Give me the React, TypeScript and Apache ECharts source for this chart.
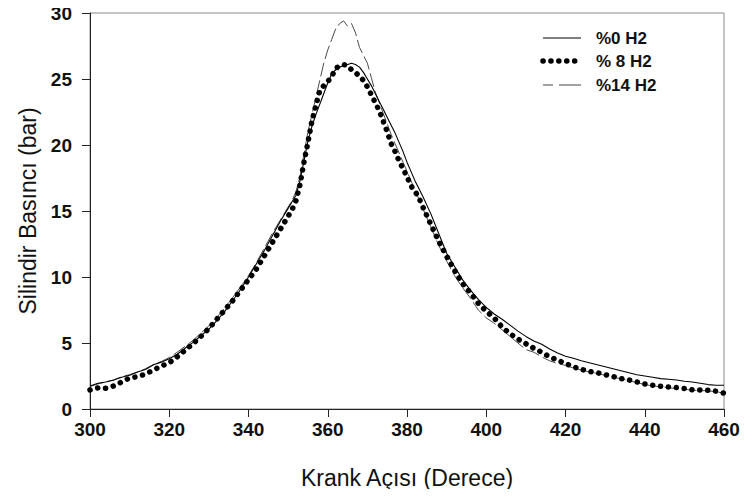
import React, { useEffect, useRef } from "react";
import * as echarts from "echarts";

const angles = [
  300, 302, 304, 306, 308, 310, 312, 314, 316, 318, 320, 322, 324, 326, 328, 330, 332, 334, 336, 338, 340, 342, 344, 346, 348, 350,
  351, 352, 353, 354, 355, 356, 357, 358, 359, 360, 361, 362, 363, 364, 365, 366, 367, 368, 369, 370, 371, 372, 373, 374, 375, 376,
  377, 378, 379, 380, 381, 382, 383, 384,
  386, 388, 390, 392, 394, 396, 398, 400, 402, 404, 406, 408, 410, 412, 414, 416, 418, 420, 422, 424, 426, 428, 430, 432, 434, 436,
  438, 440, 442, 444, 446, 448, 450, 452, 454, 456, 458, 460,
];

const h2_0 = [
  1.75, 1.95, 2.05, 2.2, 2.4, 2.55, 2.8, 3.0, 3.35, 3.55, 3.8, 4.15, 4.6, 5.05, 5.55, 6.05, 6.7, 7.4, 8.2, 9.05, 10.0, 11.0, 12.0, 13.1, 14.2, 15.2,
  15.7, 16.2, 17.3, 18.8, 20.3, 21.4, 22.3, 23.1, 23.9, 24.7, 25.4, 25.7, 25.9, 26.0, 26.1, 26.2, 26.1, 25.9, 25.5, 25.0, 24.5, 23.9,
  23.3, 22.7, 22.1, 21.5, 20.9, 20.2, 19.5, 18.7, 18.0, 17.3, 16.7, 16.1,
  14.8, 13.3, 11.8, 10.8, 9.8, 9.0, 8.3, 7.7, 7.2, 6.8, 6.35, 5.9, 5.5, 5.15, 4.9, 4.55, 4.25, 4.0, 3.85, 3.65, 3.5, 3.35, 3.2, 3.05,
  2.9, 2.75, 2.6, 2.5, 2.4, 2.3, 2.25, 2.2, 2.1, 2.05, 1.95, 1.85, 1.8, 1.8,
];

const h2_8 = [
  1.44, 1.6, 1.58, 1.75, 2.05, 2.35, 2.45, 2.65, 2.95, 3.25, 3.5, 3.95, 4.45, 4.95, 5.5, 6.1, 6.8, 7.5, 8.2, 9.0, 9.8, 10.6, 11.6, 12.6, 13.6, 14.6,
  15.1, 15.8, 17.0, 18.7, 20.2, 21.8, 23.0, 24.1, 24.5, 24.8, 25.2, 25.8, 26.0, 26.1, 26.0, 25.7, 25.5, 25.2, 24.9, 24.4, 23.8, 23.2,
  22.6, 21.8, 21.0, 20.1, 19.5, 18.8, 18.2, 17.6, 16.9, 16.5, 16.0, 15.3,
  14.0, 12.7, 11.6, 10.5, 9.5, 8.8, 8.0, 7.4, 6.9, 6.2, 5.7, 5.3, 4.95, 4.6, 4.3, 3.95, 3.7, 3.45, 3.2, 3.0, 2.85, 2.75, 2.6, 2.45,
  2.3, 2.2, 2.05, 1.9, 1.8, 1.72, 1.66, 1.62, 1.55, 1.45, 1.44, 1.42, 1.35, 1.2,
];

const h2_14 = [
  1.7, 1.9, 2.05, 2.2, 2.45, 2.6, 2.8, 3.05, 3.35, 3.6, 3.9, 4.3, 4.75, 5.2, 5.75, 6.3, 6.95, 7.65, 8.45, 9.25, 10.1, 11.1, 12.2, 13.3, 14.3, 15.3,
  15.8, 16.5, 17.6, 19.3, 21.0, 22.3, 23.6, 24.9, 26.2, 27.2, 28.0, 28.8, 29.2, 29.4, 29.0, 29.2, 28.5, 27.4, 26.8, 26.2, 25.1, 24.0,
  23.2, 22.4, 21.6, 20.8, 20.1, 19.4, 18.7, 18.0, 17.3, 16.6, 15.9, 15.2,
  13.8, 12.4, 11.2, 10.1, 9.2, 8.4, 7.5, 6.9, 6.5, 6.0, 5.5, 5.0, 4.5, 4.3, 3.95, 3.65, 3.45, 3.3, 3.1, 2.95, 2.8, 2.7, 2.55, 2.4,
  2.3, 2.15, 2.0, 1.85, 1.75, 1.68, 1.6, 1.55, 1.5, 1.42, 1.4, 1.38, 1.3, 1.2,
];

const seriesNames = ["%0 H2", "% 8 H2", "%14 H2"];
const FONT = "'Liberation Sans', Arial, Helvetica, sans-serif";

const DOT_DASH = [0.1, 7.8];
const LONG_DASH = [14, 4];

const pairs = (vals: number[]) => angles.map((a, i) => [a, vals[i]]);

export default function App() {
  const ref = useRef<HTMLDivElement>(null);
  useEffect(() => {
    if (!ref.current) return;
    const chart = echarts.init(ref.current, undefined, { renderer: "svg" });

    const legendX = 543;
    const legendLen = 38;
    const legendRows = [38, 61, 85];
    const legendStyles = [
      { stroke: "#000", lineWidth: 1 },
      { stroke: "#000", lineWidth: 5.5, lineDash: DOT_DASH, lineCap: "round" },
      { stroke: "#444", lineWidth: 1, lineDash: [10, 6, 22] },
    ];
    const legendGraphics: any[] = [];
    seriesNames.forEach((n, i) => {
      legendGraphics.push({
        type: "line",
        shape: { x1: legendX, y1: legendRows[i], x2: legendX + legendLen, y2: legendRows[i] },
        style: legendStyles[i],
        silent: true,
      });
      legendGraphics.push({
        type: "text",
        x: 596,
        y: legendRows[i],
        style: {
          text: n,
          fontFamily: FONT,
          fontSize: 17,
          fontWeight: "bold",
          fill: "#111",
          verticalAlign: "middle",
          align: "left",
        },
        silent: true,
      });
    });

    chart.setOption({
      animation: false,
      backgroundColor: "#ffffff",
      grid: {
        left: 90,
        right: 26,
        top: 13,
        bottom: 88,
        show: true,
        borderColor: "#8a8a8a",
        borderWidth: 1,
        backgroundColor: "transparent",
      },
      graphic: legendGraphics,
      xAxis: {
        type: "value",
        min: 300,
        max: 460,
        interval: 20,
        name: "Krank Açısı (Derece)",
        nameLocation: "middle",
        nameGap: 57,
        nameTextStyle: { fontFamily: FONT, fontSize: 23, color: "#111" },
        axisLine: { show: true, onZero: false, lineStyle: { color: "#222", width: 1 } },
        axisTick: { show: true, inside: false, length: 8, lineStyle: { color: "#222" } },
        axisLabel: { fontFamily: FONT, fontSize: 19, fontWeight: "bold", color: "#111", margin: 11 },
        splitLine: { show: false },
      },
      yAxis: {
        type: "value",
        min: 0,
        max: 30,
        interval: 5,
        name: "Silindir Basıncı (bar)",
        nameLocation: "middle",
        nameGap: 50,
        nameTextStyle: { fontFamily: FONT, fontSize: 23, color: "#111" },
        axisLine: { show: true, onZero: false, lineStyle: { color: "#222", width: 1 } },
        axisTick: { show: true, inside: false, length: 8, lineStyle: { color: "#222" } },
        axisLabel: { fontFamily: FONT, fontSize: 19, fontWeight: "bold", color: "#111", margin: 18 },
        splitLine: { show: false },
      },
      series: [
        {
          name: seriesNames[0],
          type: "line",
          data: pairs(h2_0),
          showSymbol: false,
          symbol: "none",
          lineStyle: { color: "#000", width: 1.1 },
          z: 3,
        },
        {
          name: seriesNames[1],
          type: "line",
          data: pairs(h2_8),
          showSymbol: false,
          symbol: "none",
          lineStyle: { color: "#000", width: 5.5, type: DOT_DASH, cap: "round" },
          z: 4,
        },
        {
          name: seriesNames[2],
          type: "line",
          data: pairs(h2_14),
          showSymbol: false,
          symbol: "none",
          lineStyle: { color: "#4a4a4a", width: 1, type: LONG_DASH },
          z: 2,
        },
      ],
    });
    return () => chart.dispose();
  }, []);
  return <div ref={ref} style={{ width: 750, height: 497, margin: -8 }} />;
}
